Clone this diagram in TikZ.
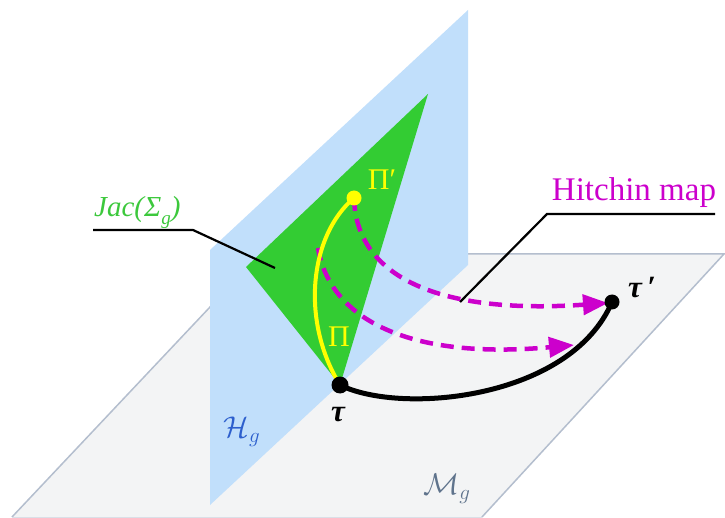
\RequirePackage{fix-cm}
\documentclass[tikz,border=0pt]{standalone}
\usepackage{fontspec}
\setmainfont{Liberation Serif}
\usetikzlibrary{arrows.meta}
\definecolor{planeblue}{RGB}{193,223,251}
\definecolor{planegrey}{RGB}{243,244,245}
\definecolor{planeedge}{RGB}{180,190,206}
\definecolor{jacgreen}{RGB}{51,204,51}
\definecolor{jactext}{RGB}{60,200,60}
\definecolor{hmag}{RGB}{204,0,204}
\definecolor{hblue}{RGB}{45,95,205}
\definecolor{mslate}{RGB}{95,115,140}
\definecolor{pyellow}{RGB}{255,255,0}
\begin{document}
\begin{tikzpicture}[x=1pt,y=-1pt,
  mapline/.style={hmag, line width=4.5pt, dash pattern=on 13pt off 8pt,
    -{Triangle[length=25pt,width=20pt]}},
  leader/.style={black, line width=2.2pt},
  dotnode/.style={circle, fill=#1, inner sep=0pt, minimum size=13pt},
  lbl/.style={inner sep=0pt}
]
\useasboundingbox (0,0) rectangle (725,518);
% horizontal plane M_g
\fill[planegrey] (260,254) -- (724,254) -- (482,517) -- (12,517) -- cycle;
\draw[planeedge, line width=1.5pt] (12,517) -- (260,254) -- (724,254) -- (482,517);
\draw[planeedge!50, line width=1pt] (12,517) -- (482,517);
% vertical plane H_g
\fill[planeblue] (210,250) -- (468,10) -- (468,265) -- (210,505) -- cycle;
% Jacobian triangle
\fill[jacgreen] (428,94) -- (246,267) -- (340,385) -- cycle;
% key points
\coordinate (tau) at (340,385);
\coordinate (taup) at (612,302);
\coordinate (pip) at (354,198);
\coordinate (pistart) at (318,248);
\coordinate (uptip) at (608,303);
\coordinate (lowtip) at (574,345);
% leaders
\node[lbl, text=jactext, anchor=south west] (jac) at (94,229)
  {\fontsize{29}{30}\selectfont\itshape Jac(Σ\raisebox{-0.28em}{\fontsize{19}{19}\selectfont g})};
\coordinate (jacl) at (93,230);
\coordinate (jacr) at (193,230);
\coordinate (jacfoot) at (275,268);
\draw[leader] (jacl) -- (jacr) -- (jacfoot);
\node[lbl, text=hmag, anchor=south] (hitchin) at (634,208)
  {\fontsize{33}{34}\selectfont Hitchin map};
\coordinate (hend) at (715,214);
\coordinate (hbend) at (547,214);
\coordinate (hfoot) at (460,302);
\draw[leader] (hend) -- (hbend) -- (hfoot);
% Hitchin map arrows
\draw[mapline] (pip) .. controls (356,275) and (435,315) .. (uptip);
\draw[mapline] (pistart) .. controls (330,320) and (410,360) .. (lowtip);
% yellow curve in the Jacobian
\draw[pyellow, line width=4pt] (tau) .. controls (300,320) and (310,235) .. (pip);
% black curve in the moduli space
\draw[black, line width=5pt] (tau) .. controls (400,415) and (570,400) .. (taup);
% dots
\node[dotnode=pyellow, minimum size=15pt] (pipdot) at (pip) {};
\node[dotnode=black, minimum size=17pt] (taudot) at (tau) {};
\node[dotnode=black, minimum size=15pt] (taupdot) at (taup) {};
% labels
\node[lbl, text=pyellow] (piplbl) at (382,180) {\fontsize{30}{30}\selectfont Π′};
\node[lbl, text=pyellow] (pilbl) at (339,337) {\fontsize{30}{30}\selectfont Π};
\node[lbl] (taulbl) at (338,415) {\fontsize{31}{31}\selectfont\bfseries\itshape τ};
\node[lbl] (tauplbl) at (642,288) {\fontsize{31}{31}\selectfont\bfseries\itshape τ\,′};
\node[lbl, text=hblue] (hlbl) at (242,432) {\fontsize{30}{32}\selectfont $\mathcal{H}_g$};
\node[lbl, text=mslate] (mlbl) at (447,489) {\fontsize{30}{32}\selectfont $\mathcal{M}_g$};
\end{tikzpicture}
\end{document}
